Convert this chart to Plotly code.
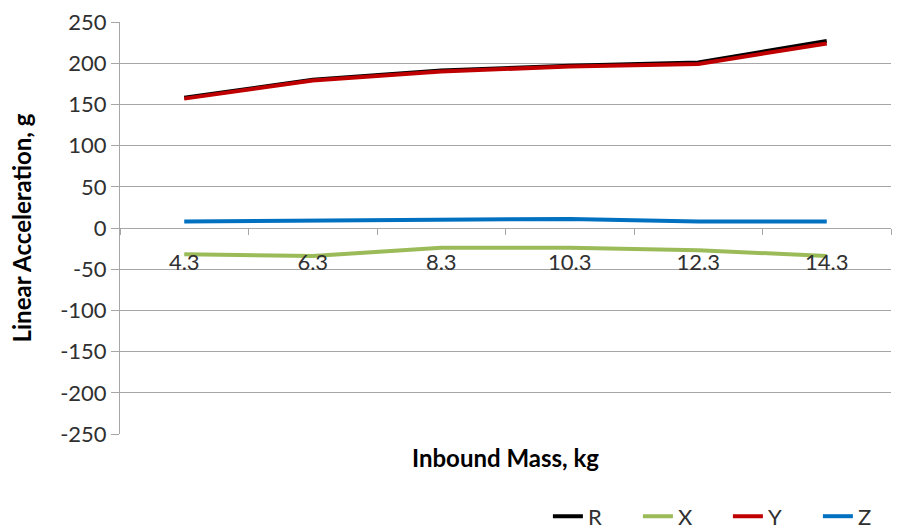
import plotly.graph_objects as go

categories = ["4.3", "6.3", "8.3", "10.3", "12.3", "14.3"]
R = [158, 180, 191, 197, 201, 227]
X = [-32, -34, -24, -24, -27, -34]
Y = [157, 179, 190, 196, 199, 224]
Z = [8, 9, 9, 11, 8, 8]
series = [("R", R, "#000000"), ("X", X, "#9BBB59"), ("Y", Y, "#C00000"), ("Z", Z, "#0070C0")]
y_ticks = [250, 200, 150, 100, 50, 0, -50, -100, -150, -200, -250]
y_ticktext = ["250", "200", "150", "100", "50", "0", "-50", "-100", "-150", "-200", "-250"]

font = "Lato, 'Open Sans', sans-serif"
grid = "#A6A6A6"
txt = "#303030"

fig = go.Figure()
for name, vals, color in series:
    fig.add_trace(go.Scatter(x=categories, y=vals, name=name, mode="lines",
                             line=dict(color=color, width=4)))

fig.update_layout(
    width=897, height=529,
    margin=dict(l=120, r=6, t=22, b=95, autoexpand=False),
    paper_bgcolor="white", plot_bgcolor="white",
    font=dict(family=font, size=22, color=txt),
    showlegend=True,
    legend=dict(orientation="h", x=0.555, xanchor="left", y=-0.2, yanchor="middle",
                font=dict(size=22, color=txt), entrywidth=45, entrywidthmode="pixels",
                tracegroupgap=0),
    xaxis=dict(type="category", range=[-0.5, 5.5], anchor="free", position=0.5,
               showline=True, linecolor=grid, linewidth=1,
               ticks="outside", ticklen=6, tickcolor=grid, tickson="boundaries",
               showgrid=False, ticklabelstandoff=15,
               tickfont=dict(size=22, color=txt)),
    yaxis=dict(range=[-250, 250], tickvals=y_ticks, ticktext=y_ticktext,
               showgrid=True, gridcolor=grid, gridwidth=1,
               zeroline=True, zerolinecolor=grid, zerolinewidth=1,
               showline=True, linecolor=grid, linewidth=1,
               ticks="outside", ticklen=8, tickcolor=grid,
               title=dict(text="<b>Linear Acceleration, g</b>", standoff=21,
                          font=dict(size=24, color="#000000")),
               tickfont=dict(size=22, color=txt)),
    annotations=[dict(text="<b>Inbound Mass, kg</b>", xref="paper", yref="paper",
                      x=0.5, y=-0.058, xanchor="center", yanchor="middle", showarrow=False,
                      font=dict(size=24, color="#000000"))],
)

fig.write_html("out.html")
